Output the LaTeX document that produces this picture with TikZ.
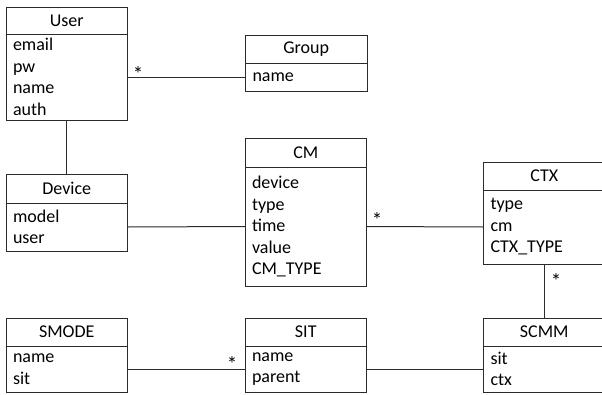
\documentclass[tikz,border=0pt]{standalone}
\usepackage{fontspec}
\setmainfont{Carlito}
\definecolor{ln}{HTML}{2B2B2B}
\begin{document}
\begin{tikzpicture}[x=1pt,y=-1pt,
  every node/.style={font=\fontsize{18}{21.5}\selectfont, outer sep=0pt},
  head/.style={draw=ln, line width=1pt, anchor=north west, minimum width=121.5pt, inner sep=0pt},
  body/.style={draw=ln, line width=1pt, anchor=north west, minimum width=121.5pt, inner xsep=7pt, inner ysep=0pt, text width=107.5pt, align=left},
  conn/.style={draw=ln, line width=1pt},
  star/.style={inner sep=0pt, font=\fontsize{21}{24}\selectfont}]
\clip (0,0) rectangle (602,394);
\fill[white] (0,0) rectangle (602,394);
% User
\node[head, minimum height=27pt] (user) at (6,7) {User};
\node[body, minimum height=86pt] (userb) at (6,34) {email\\pw\\name\\auth};
% Group
\node[head, minimum height=28pt] (group) at (245.5,35) {Group};
\node[body, minimum height=28pt] (groupb) at (245.5,63) {name};
% Device
\node[head, minimum height=29pt] (device) at (6,174) {Device};
\node[body, minimum height=48pt] (deviceb) at (6,203) {model\\user};
% CM
\node[head, minimum height=29pt] (cm) at (245,138) {CM};
\node[body, minimum height=119pt] (cmb) at (245,167) {device\\type\\time\\value\\CM\_TYPE};
% CTX
\node[head, minimum height=28pt] (ctx) at (483.5,162) {CTX};
\node[body, minimum height=74pt] (ctxb) at (483.5,190) {type\\cm\\CTX\_TYPE};
% SMODE
\node[head, minimum height=28pt] (smode) at (6,318) {SMODE};
\node[body, minimum height=46pt] (smodeb) at (6,346) {name\\sit};
% SIT
\node[head, minimum height=28pt] (sit) at (245,318) {SIT};
\node[body, minimum height=46pt] (sitb) at (245,346) {name\\parent};
% SCMM
\node[head, minimum height=28pt] (scmm) at (483.5,318) {SCMM};
\node[body, minimum height=46pt] (scmmb) at (483.5,346) {sit\\ctx};
% connectors
\draw[conn] (userb.east) -- (groupb.west);
\draw[conn] (userb.south) -- (device.north);
\draw[conn] (deviceb.east) -- (cmb.west);
\draw[conn] (cmb.east) -- (ctxb.west);
\draw[conn] (ctxb.south) -- (scmm.north);
\draw[conn] (smodeb.east) -- (sitb.west);
\draw[conn] (sitb.east) -- (scmmb.west);
% multiplicities
\node[star] (s1) at (138,74) {*};
\node[star] (s2) at (377,220) {*};
\node[star] (s3) at (232,364) {*};
\node[star] (s4) at (556,281) {*};
\end{tikzpicture}
\end{document}
